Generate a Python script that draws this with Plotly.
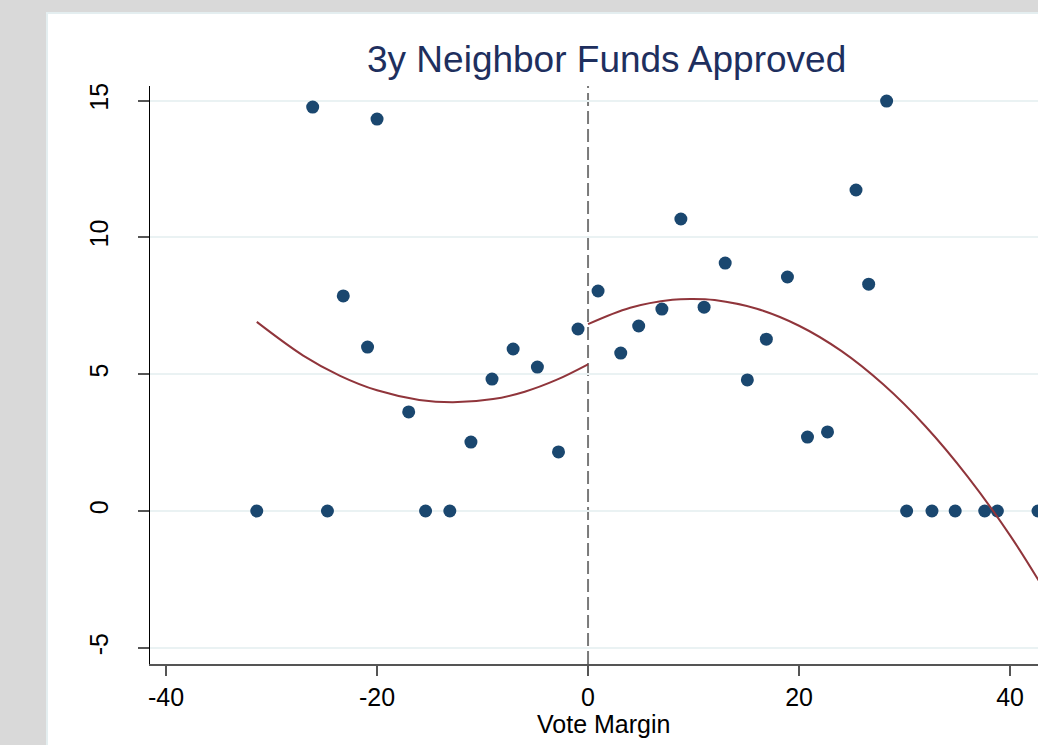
import plotly.graph_objects as go

# ---- data ----
vote_margin = [-31.4, -26.1, -24.7, -23.2, -20.9, -20.0, -17.0, -15.4, -13.1, -11.1,
               -9.1, -7.1, -4.8, -2.8, -0.95, 0.95, 3.1, 4.8, 7.0, 8.8,
               11.0, 13.0, 15.1, 16.9, 18.9, 20.8, 22.7, 25.4, 26.6, 28.3,
               30.2, 32.6, 34.8, 37.6, 38.8, 42.65]
funds_approved = [0.0, 14.76, 0.0, 7.86, 5.99, 14.32, 3.62, 0.0, 0.0, 2.52,
                  4.82, 5.92, 5.26, 2.16, 6.65, 8.04, 5.77, 6.76, 7.38, 10.67,
                  7.45, 9.06, 4.79, 6.28, 8.55, 2.70, 2.89, 11.73, 8.29, 14.98,
                  0.0, 0.0, 0.0, 0.0, 0.0, 0.0]

# fitted curves
left_fit_x = [-31.4, -27.0, -23.5, -20.0, -16.0, -12.8, -9.0, -6.0, -3.0, 0.0]
left_fit_y = [6.91, 5.68, 4.94, 4.41, 4.06, 3.97, 4.09, 4.36, 4.79, 5.36]
right_fit_x = [0.0, 4.0, 8.0, 9.84, 12.0, 16.0, 20.0, 24.0, 28.0, 32.0, 36.0, 40.0, 43.0]
right_fit_y = [6.83, 7.43, 7.72, 7.75, 7.71, 7.39, 6.77, 5.85, 4.62, 3.09, 1.25, -0.89, -2.72]

x_ticks = [-40, -20, 0, 20, 40]
y_ticks = [-5, 0, 5, 10, 15]
cutoff = [0]

title_text = "3y Neighbor Funds Approved"
x_title = "Vote Margin"

# ---- layout geometry ----
W, H = 1038, 745
L, R, T, B = 150, 0, 86, 81
PW, PH = W - L - R, H - T - B

def px_to_paper_x(px):
    return (px - L) / PW

def px_to_paper_y(py):
    return (H - B - py) / PH

FONT = "Liberation Sans, Arial, Helvetica, sans-serif"
NAVY = "#1a476f"
MAROON = "#90353b"

fig = go.Figure()

fig.add_trace(go.Scatter(
    x=vote_margin, y=funds_approved, mode="markers",
    marker=dict(color=NAVY, size=13, line=dict(width=0)),
    showlegend=False, cliponaxis=True,
))
fig.add_trace(go.Scatter(
    x=left_fit_x, y=left_fit_y, mode="lines",
    line=dict(color=MAROON, width=2, shape="spline"),
    showlegend=False,
))
fig.add_trace(go.Scatter(
    x=right_fit_x, y=right_fit_y, mode="lines",
    line=dict(color=MAROON, width=2, shape="spline"),
    showlegend=False,
))

# white panel over the grey background
fig.add_shape(type="rect", xref="paper", yref="paper",
              x0=px_to_paper_x(47), x1=px_to_paper_x(1100),
              y0=px_to_paper_y(800), y1=px_to_paper_y(13),
              fillcolor="white", line=dict(color="#e4eef0", width=2), layer="below")

# cutoff line
for c in cutoff:
    fig.add_shape(type="line", xref="x", yref="paper", x0=c, x1=c, y0=0, y1=1,
                  line=dict(color="#7a7a7a", width=2, dash="13px,5px"), layer="below")

fig.add_annotation(text=title_text, xref="paper", yref="paper",
                   x=px_to_paper_x(606), y=px_to_paper_y(60),
                   xanchor="center", yanchor="middle", showarrow=False,
                   font=dict(family=FONT, size=37, color="#1e2f5e"))
fig.add_annotation(text=x_title, xref="paper", yref="paper",
                   x=px_to_paper_x(603), y=px_to_paper_y(724),
                   xanchor="center", yanchor="middle", showarrow=False,
                   font=dict(family=FONT, size=25, color="black"))

fig.update_layout(
    width=W, height=H,
    margin=dict(l=L, r=R, t=T, b=B, pad=0),
    paper_bgcolor="#d9d9d9",
    plot_bgcolor="white",
    font=dict(family=FONT, size=25, color="black"),
    showlegend=False,
)
fig.update_xaxes(
    range=[-41.52, 42.65], tickmode="array", tickvals=x_ticks,
    ticktext=[str(v) for v in x_ticks],
    ticks="outside", ticklen=10, tickwidth=1.5, tickcolor="#555555",
    showline=True, linecolor="#555555", linewidth=2,
    showgrid=False, zeroline=False, ticklabelstandoff=0,
    tickfont=dict(family=FONT, size=25, color="black"),
)
fig.update_yaxes(
    range=[-5.59, 15.53], tickmode="array", tickvals=y_ticks,
    ticktext=[str(v) for v in y_ticks],
    ticks="outside", ticklen=11, tickwidth=1.5, tickcolor="#555555",
    showline=True, linecolor="black", linewidth=1,
    showgrid=True, gridcolor="#eaf2f3", gridwidth=2,
    zeroline=False, tickangle=-90, ticklabelstandoff=20,
    tickfont=dict(family=FONT, size=25, color="black"),
)

fig.write_html("out.html",
               config={"displayModeBar": False},
               post_script="document.body.style.margin='0';document.body.style.overflow='hidden';")
